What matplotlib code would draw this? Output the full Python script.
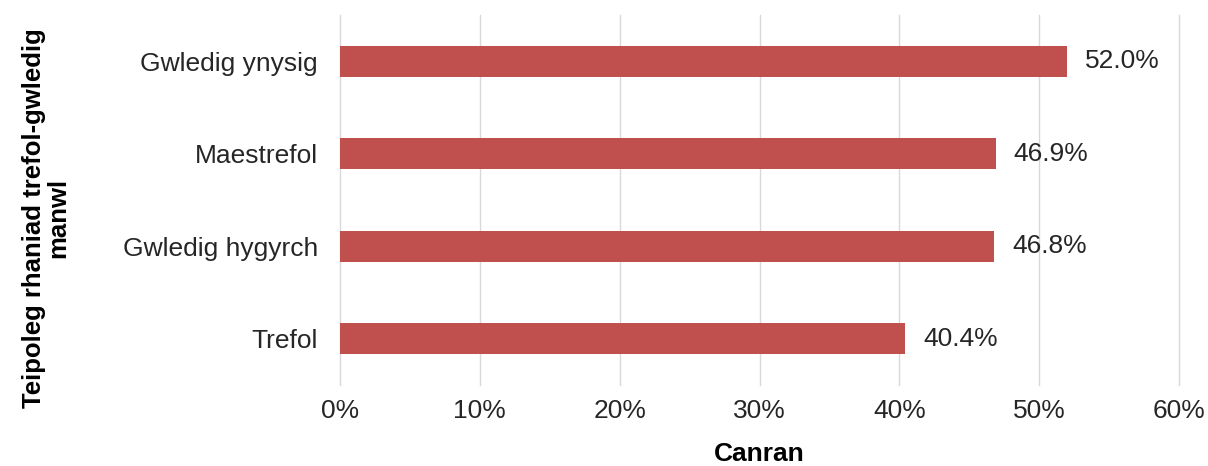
import matplotlib
matplotlib.use("Agg")
import matplotlib.pyplot as plt
from matplotlib.ticker import FuncFormatter

plt.rcParams['font.family'] = ['Liberation Sans', 'DejaVu Sans']

categories = ["Gwledig ynysig", "Maestrefol", "Gwledig hygyrch", "Trefol"]
values = [52.0, 46.9, 46.8, 40.4]
xticks = [0, 10, 20, 30, 40, 50, 60]

W, H = 1208, 466
FS = 19
fig = plt.figure(figsize=(W / 100, H / 100), dpi=100)
ax = fig.add_axes([340 / W, 1 - 385 / H, (1179 - 340) / W, (385 - 15) / H])

ypos = list(range(len(categories)))
ax.barh(ypos, values, height=0.33, color="#C0504D", zorder=3)
ax.set_ylim(len(categories) - 0.5, -0.5)
ax.set_yticks(ypos)
ax.set_yticklabels(categories, fontsize=FS, color="#262626")
ax.set_xlim(0, 60)
ax.set_xticks(xticks)
ax.xaxis.set_major_formatter(FuncFormatter(lambda v, p: f"{v:.0f}%"))
ax.tick_params(axis='x', labelsize=FS, colors="#262626", length=0, pad=10)
ax.tick_params(axis='y', length=0, pad=16)
ax.grid(axis='x', color="#D9D9D9", linewidth=1, zorder=0)
for gl in ax.get_xgridlines():
    gl.set_clip_on(False)
for s in ax.spines.values():
    s.set_visible(False)

for y, v in zip(ypos, values):
    ax.annotate(f"{v:.1f}%", (v, y), xytext=(13, 0), textcoords="offset points",
                va="center", ha="left", fontsize=FS, color="#262626")

ax.set_xlabel("Canran", fontsize=FS, fontweight="bold", labelpad=14)
fig.text(46 / W, 1 - 218 / H, "Teipoleg rhaniad trefol-gwledig\nmanwl", rotation=90,
         ha="center", va="center", fontsize=18.5, fontweight="bold", linespacing=1.0)

fig.savefig("out.png", dpi=100)
